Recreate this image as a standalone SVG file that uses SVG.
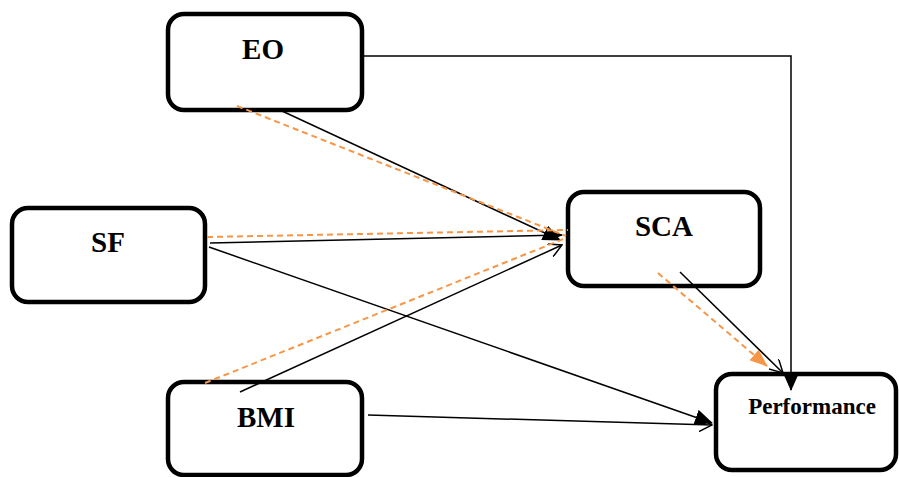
<svg xmlns="http://www.w3.org/2000/svg" width="899" height="477" viewBox="0 0 899 477">
<style>
.box{fill:#fff;stroke:#000;stroke-width:4.5}
.lbl{font-family:"Liberation Serif","Times New Roman",serif;font-weight:bold;font-size:29px;text-anchor:middle;fill:#000}
.sm{font-size:23px}
.ln{fill:none;stroke:#000;stroke-width:1.5}
.or{fill:none;stroke:#F79646;stroke-width:2;stroke-dasharray:6,4}
</style>
<defs>
<marker id="fb" markerWidth="12" markerHeight="10" refX="11" refY="5" orient="auto" markerUnits="userSpaceOnUse"><path d="M0,0 L12,5 L0,10 z" fill="#000"/></marker>
<marker id="fbl" markerWidth="18" markerHeight="16" refX="17" refY="8" orient="auto" markerUnits="userSpaceOnUse"><path d="M0,0 L18,8 L0,16 z" fill="#000"/></marker>
<marker id="ob" markerWidth="14" markerHeight="14" refX="13" refY="7" orient="auto" markerUnits="userSpaceOnUse"><path d="M0,0 L13,7 L0,14" fill="none" stroke="#000" stroke-width="1.5"/></marker>
<marker id="fo" markerWidth="18" markerHeight="14" refX="17" refY="7" orient="auto" markerUnits="userSpaceOnUse"><path d="M0,0 L18,7 L0,14 z" fill="#F79646"/></marker>
</defs>
<g id="EO"><rect class="box" x="168" y="14" width="194" height="96" rx="16"/><text class="lbl" x="263" y="59">EO</text></g>
<g id="SF"><rect class="box" x="12" y="208" width="193" height="94" rx="16"/><text class="lbl" x="108" y="252">SF</text></g>
<g id="BMI"><rect class="box" x="168" y="382" width="194" height="93" rx="16"/><text class="lbl" x="266" y="427">BMI</text></g>
<g id="SCA"><rect class="box" x="568" y="192" width="192" height="94" rx="16"/><text class="lbl" x="664" y="236">SCA</text></g>
<g id="Performance"><rect class="box" x="716" y="374" width="180" height="96" rx="16"/><text class="lbl sm" x="812" y="414">Performance</text></g>
<g id="connectors">
<polyline class="ln" points="362,56 791,56 791,390" marker-end="url(#fbl)"/>
<line class="ln" x1="282" y1="111" x2="560" y2="240" marker-end="url(#fbl)"/>
<line class="ln" x1="210" y1="243" x2="562" y2="235" marker-end="url(#fb)"/>
<line class="ln" x1="240" y1="392" x2="562" y2="245" marker-end="url(#ob)"/>
<line class="ln" x1="209" y1="247" x2="712" y2="423" marker-end="url(#fbl)"/>
<line class="ln" x1="368" y1="415" x2="712" y2="425" marker-end="url(#ob)"/>
<line class="ln" x1="680" y1="272" x2="783" y2="373" marker-end="url(#ob)"/>
<line class="or" x1="237" y1="106" x2="566" y2="236"/>
<line class="or" x1="207" y1="237" x2="568" y2="230"/>
<line class="or" x1="205" y1="383" x2="566" y2="238"/>
<line class="or" x1="658" y1="273" x2="767" y2="366" marker-end="url(#fo)"/>
</g>
</svg>
